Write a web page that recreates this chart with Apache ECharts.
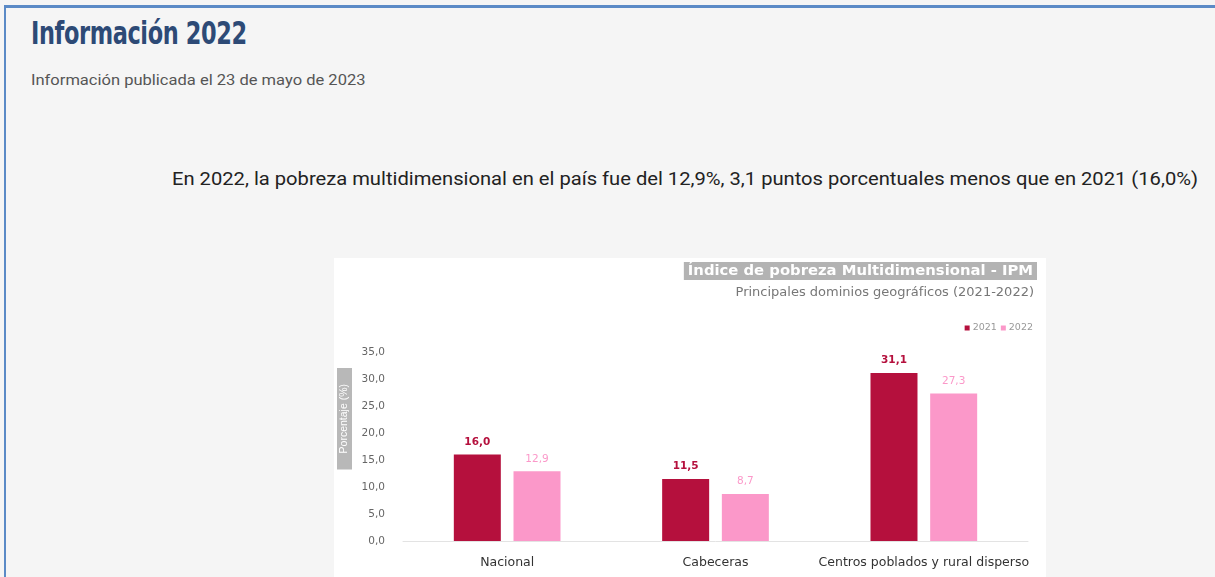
<!DOCTYPE html>
<html lang="es">
<head>
<meta charset="UTF-8" />
<title>IPM 2022</title>
<style>
* { margin: 0; padding: 0; }
body {
  width: 1215px;
  height: 577px;
  overflow: hidden;
  background: #f5f5f5;
  position: relative;
  font-family: Roboto, "Open Sans", sans-serif;
}
#frame {
  position: absolute;
  left: 4px; top: 5px;
  width: 1211px; height: 572px;
  border-left: 2px solid #5b8ac6;
  border-top: 3px solid #5b8ac6;
}
#pageTitle {
  position: absolute;
  left: 31px; top: 14px;
  font-family: "DejaVu Sans Condensed", "DejaVu Sans", sans-serif;
  font-weight: bold;
  font-size: 32px;
  color: #2d4a76;
  transform: scaleX(0.78);
  transform-origin: left top;
  letter-spacing: -0.5px;
}
#pageSub {
  position: absolute;
  left: 31px; top: 72px;
  font-size: 14px;
  color: #555;
  transform: scaleX(1.18);
  transform-origin: left top;
}
#lead {
  position: absolute;
  left: 172px; top: 168px;
  font-size: 18px;
  color: #222;
  transform: scaleX(1.12);
  transform-origin: left top;
  white-space: nowrap;
}
#chartEl {
  position: absolute;
  left: 334px; top: 258px;
  width: 712px; height: 319px;
  background: #fff;
}
</style>
</head>
<body>
<div id="frame"></div>
<div id="pageTitle">Información 2022</div>
<div id="pageSub">Información publicada el 23 de mayo de 2023</div>
<div id="lead">En 2022, la pobreza multidimensional en el país fue del 12,9%, 3,1 puntos porcentuales menos que en 2021 (16,0%)</div>
<div id="chartEl"></div>
<script src="https://cdn.jsdelivr.net/npm/echarts@6/dist/echarts.min.js"></script>
<script>
// datos
const categories = ['Nacional', 'Cabeceras', 'Centros poblados y rural disperso'];
const ipm2021 = [16.0, 11.5, 31.1];
const ipm2022 = [12.9, 8.7, 27.3];
const yTicks = [0, 5, 10, 15, 20, 25, 30, 35];

const color2021 = '#b5103d';
const color2022 = '#fb98c9';

function fmt(v) {
  return Number(v).toFixed(1).replace('.', ',');
}

const chart = echarts.init(document.getElementById('chartEl'));
chart.setOption({
  animation: false,
  textStyle: { fontFamily: '"DejaVu Sans", sans-serif' },
  title: [
    {
      text: 'Índice de pobreza Multidimensional - IPM',
      right: 9,
      top: 4,
      padding: [2, 4, 1, 4],
      backgroundColor: '#b3b3b3',
      textStyle: { color: '#fff', fontSize: 14.8, fontWeight: 'bold' }
    },
    {
      text: 'Principales dominios geográficos (2021-2022)',
      right: 12,
      top: 28,
      padding: 0,
      textStyle: { color: '#777', fontSize: 13, fontWeight: 'normal' }
    }
  ],
  legend: {
    right: 8,
    top: 60,
    itemWidth: 5,
    itemHeight: 5,
    itemGap: 4,
    icon: 'rect',
    selectedMode: false,
    textStyle: { color: '#999', fontSize: 9.5, padding: [0, 0, 0, -2] },
    data: ['2021', '2022']
  },
  graphic: [
    {
      type: 'text',
      left: 3,
      top: 110,
      rotation: Math.PI / 2,
      style: {
        text: 'Porcentaje (%)',
        fill: '#fff',
        fontSize: 10.5,
        backgroundColor: '#b8b8b8',
        padding: [2, 16]
      }
    }
  ],
  grid: { left: 69, right: 18, top: 94, bottom: 36 },
  xAxis: {
    type: 'category',
    data: categories,
    axisTick: { show: false },
    axisLine: { lineStyle: { color: '#e3e3e3' } },
    axisLabel: { color: '#333', fontSize: 12.5, margin: 15, interval: 0 }
  },
  yAxis: {
    type: 'value',
    min: yTicks[0],
    max: yTicks[yTicks.length - 1],
    interval: 5,
    splitLine: { show: false },
    axisLine: { show: false },
    axisTick: { show: false },
    axisLabel: { color: '#666', fontSize: 10.5, margin: 18, formatter: fmt }
  },
  series: [
    {
      name: '2021',
      type: 'bar',
      data: ipm2021,
      barWidth: 47,
      barGap: '27%',
      itemStyle: { color: color2021 },
      label: {
        show: true,
        position: 'top',
        distance: 7,
        color: color2021,
        fontWeight: 'bold',
        fontSize: 10.5,
        formatter: p => fmt(p.value)
      }
    },
    {
      name: '2022',
      type: 'bar',
      data: ipm2022,
      barWidth: 47,
      itemStyle: { color: color2022 },
      label: {
        show: true,
        position: 'top',
        distance: 7,
        color: color2022,
        fontSize: 10.5,
        formatter: p => fmt(p.value)
      }
    }
  ]
});
</script>
</body>
</html>
